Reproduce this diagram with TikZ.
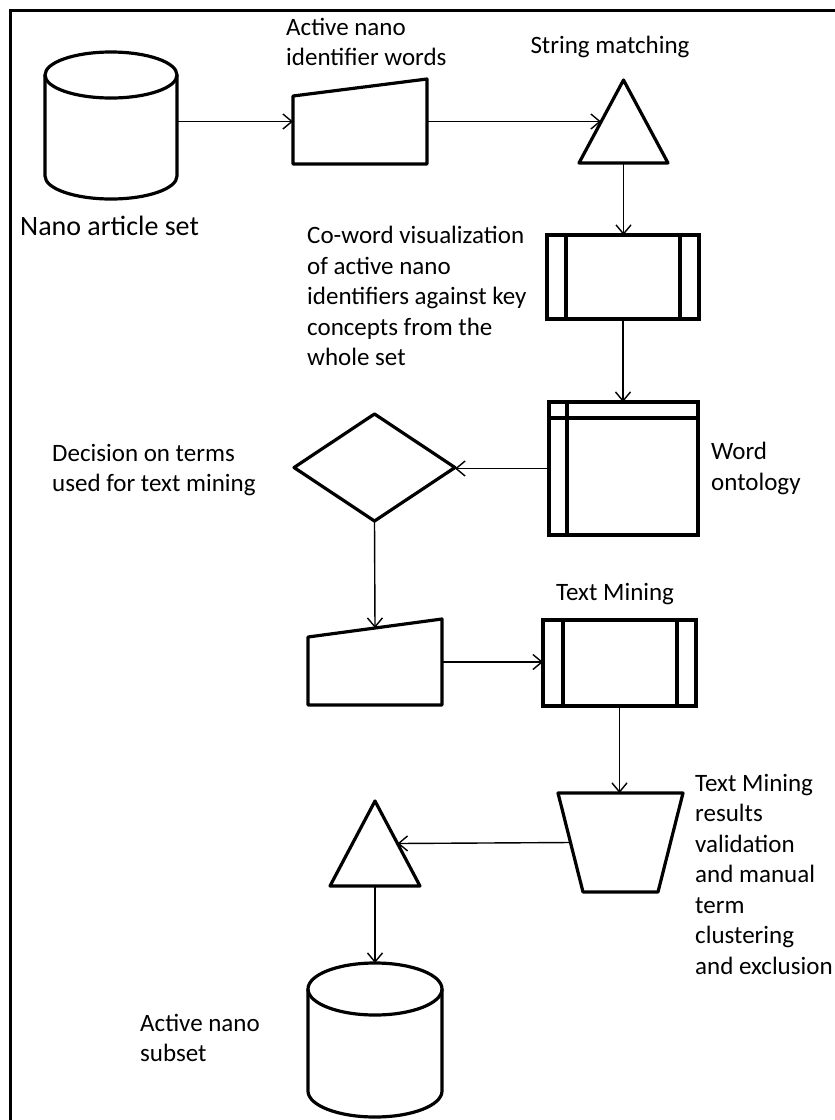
\documentclass[tikz,border=0pt]{standalone}
\usepackage{fontspec}
\setmainfont{Carlito}
\usetikzlibrary{arrows.meta,shapes.geometric,calc}
\begin{document}
\begin{tikzpicture}[x=1pt,y=-1pt,
  shp/.style={line width=3.2pt, line join=round},
  conn/.style={line width=1.4pt, -{Straight Barb[length=9pt,width=15pt]}},
  hold/.style={inner sep=0pt, outer sep=0pt, draw=none},
  pbox/.style={draw, line width=3.2pt, inner sep=0pt, outer sep=0pt},
  lbl/.style={inner sep=0pt, anchor=north west, align=left, font=\fontsize{25}{30.5}\selectfont}]
\useasboundingbox (0,0) rectangle (835,1120);
% frame
\draw[line width=3pt] (10,1120) -- (10,10) -- (835,10);

% cylinder 1
\node[hold, minimum width=132pt, minimum height=147pt] (cyl1) at (111,125.5) {};
\draw[shp] (45,75) -- (45,176) arc (180:0:66 and 23) -- (177,75);
\draw[shp] (111,75) ellipse (66 and 23);

% manual input 1
\node[hold, minimum width=134pt, minimum height=85pt] (mi1) at (360,121.5) {};
\draw[shp] (293,96) -- (427,79) -- (427,164) -- (293,164) -- cycle;

% triangle 1
\node[hold, minimum width=89pt, minimum height=83pt] (tri1) at (623.5,121.5) {};
\draw[shp] (623.5,80) -- (668,163) -- (579,163) -- cycle;
\coordinate (tri1l) at (601,121.5);

% predefined process 1
\node[pbox, minimum width=152pt, minimum height=84pt] (pb1) at (623,277) {};
\draw[shp] ([xshift=19pt]pb1.north west) -- ([xshift=19pt]pb1.south west);
\draw[shp] ([xshift=-19pt]pb1.north east) -- ([xshift=-19pt]pb1.south east);

% internal storage (word ontology)
\node[pbox, minimum width=149pt, minimum height=133pt] (wo) at (623.5,468.5) {};
\draw[shp] ([yshift=-16pt]wo.north west) -- ([yshift=-16pt]wo.north east);
\draw[shp] ([xshift=18pt]wo.north west) -- ([xshift=18pt]wo.south west);

% decision
\node[diamond, draw, shp, inner sep=0pt, outer sep=0pt, minimum width=161pt, minimum height=107pt] (dia) at (374.5,467.5) {};

% manual input 2
\node[hold, minimum width=134pt, minimum height=86pt] (mi2) at (375,662) {};
\draw[shp] (308,637) -- (442,619) -- (442,705) -- (308,705) -- cycle;

% predefined process 2
\node[pbox, minimum width=153pt, minimum height=86pt] (pb2) at (619.5,663) {};
\draw[shp] ([xshift=20pt]pb2.north west) -- ([xshift=20pt]pb2.south west);
\draw[shp] ([xshift=-19pt]pb2.north east) -- ([xshift=-19pt]pb2.south east);

% manual operation (trapezium)
\node[hold, minimum width=125pt, minimum height=99pt] (trap) at (620.5,842.5) {};
\draw[shp] (558,793) -- (683,793) -- (658,892) -- (583,892) -- cycle;
\coordinate (trapl) at (570.6,842.5);

% triangle 2
\node[hold, minimum width=90pt, minimum height=85pt] (tri2) at (375,843.5) {};
\draw[shp] (375,801) -- (420,886) -- (330,886) -- cycle;
\coordinate (tri2r) at (397.5,843.5);

% cylinder 2
\node[hold, minimum width=134pt, minimum height=154pt] (cyl2) at (375,1040) {};
\draw[shp] (308,989) -- (308,1091) arc (180:0:67 and 26) -- (442,989);
\draw[shp] (375,989) ellipse (67 and 26);

% connectors
\draw[conn] (cyl1.east |- mi1.west) -- (mi1.west);
\draw[conn] (mi1.east) -- (tri1l);
\draw[conn] (tri1.south) -- (tri1.south |- pb1.north);
\draw[conn] (pb1.south) -- (pb1.south |- wo.north);
\draw[conn] (wo.west) -- (wo.west -| dia.east);
\draw[conn] (dia.south) -- ($(mi2.north)+(0,9)$);
\draw[conn] (mi2.east) -- (mi2.east -| pb2.west);
\draw[conn] (pb2.south) -- (pb2.south |- trap.north);
\draw[conn] (trapl) -- (tri2r);
\draw[conn] (tri2.south) -- (tri2.south |- cyl2.north);

% labels
\node[lbl] (t1) at (286,18) {Active nano\\identifier words};
\node[lbl, anchor=north] (t2) at (610,36) {String matching};
\node[lbl, font=\fontsize{28}{34}\selectfont] (t3) at (20,216) {Nano article set};
\node[lbl] (t4) at (307,226) {Co-word visualization\\of active nano\\identifiers against key\\concepts from the\\whole set};
\node[lbl] (t5) at (711,442) {Word\\ontology};
\node[lbl] (t6) at (52,444) {Decision on terms\\used for text mining};
\node[lbl] (t7) at (556,583) {Text Mining};
\node[lbl] (t8) at (695,774) {Text Mining\\results\\validation\\and manual\\term\\clustering\\and exclusion};
\node[lbl] (t9) at (140,1014) {Active nano\\subset};
\end{tikzpicture}
\end{document}
